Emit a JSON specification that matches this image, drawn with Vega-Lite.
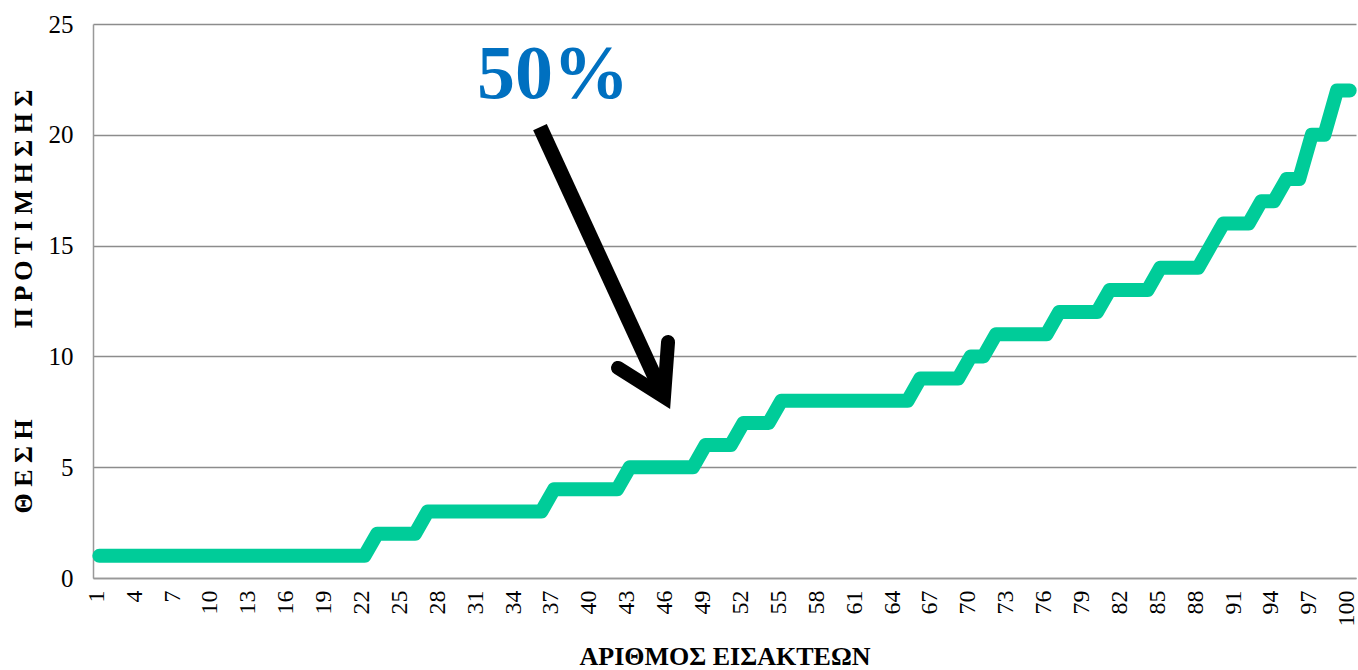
{
  "$schema": "https://vega.github.io/schema/vega-lite/v6.json",
  "width": 1263,
  "height": 554,
  "autosize": "none",
  "padding": {"left": 93, "top": 24, "right": 2, "bottom": 92},
  "background": "white",
  "config": {
    "view": {"stroke": null},
    "font": "Times New Roman",
    "axis": {"labelFont": "Times New Roman", "titleFont": "Times New Roman"},
    "text": {"font": "Times New Roman"}
  },
  "datasets": {
    "series": [
      {"x":1,"y":1},{"x":2,"y":1},{"x":3,"y":1},{"x":4,"y":1},{"x":5,"y":1},{"x":6,"y":1},{"x":7,"y":1},{"x":8,"y":1},{"x":9,"y":1},{"x":10,"y":1},
      {"x":11,"y":1},{"x":12,"y":1},{"x":13,"y":1},{"x":14,"y":1},{"x":15,"y":1},{"x":16,"y":1},{"x":17,"y":1},{"x":18,"y":1},{"x":19,"y":1},{"x":20,"y":1},
      {"x":21,"y":1},{"x":22,"y":1},{"x":23,"y":2},{"x":24,"y":2},{"x":25,"y":2},{"x":26,"y":2},{"x":27,"y":3},{"x":28,"y":3},{"x":29,"y":3},{"x":30,"y":3},
      {"x":31,"y":3},{"x":32,"y":3},{"x":33,"y":3},{"x":34,"y":3},{"x":35,"y":3},{"x":36,"y":3},{"x":37,"y":4},{"x":38,"y":4},{"x":39,"y":4},{"x":40,"y":4},
      {"x":41,"y":4},{"x":42,"y":4},{"x":43,"y":5},{"x":44,"y":5},{"x":45,"y":5},{"x":46,"y":5},{"x":47,"y":5},{"x":48,"y":5},{"x":49,"y":6},{"x":50,"y":6},
      {"x":51,"y":6},{"x":52,"y":7},{"x":53,"y":7},{"x":54,"y":7},{"x":55,"y":8},{"x":56,"y":8},{"x":57,"y":8},{"x":58,"y":8},{"x":59,"y":8},{"x":60,"y":8},
      {"x":61,"y":8},{"x":62,"y":8},{"x":63,"y":8},{"x":64,"y":8},{"x":65,"y":8},{"x":66,"y":9},{"x":67,"y":9},{"x":68,"y":9},{"x":69,"y":9},{"x":70,"y":10},
      {"x":71,"y":10},{"x":72,"y":11},{"x":73,"y":11},{"x":74,"y":11},{"x":75,"y":11},{"x":76,"y":11},{"x":77,"y":12},{"x":78,"y":12},{"x":79,"y":12},{"x":80,"y":12},
      {"x":81,"y":13},{"x":82,"y":13},{"x":83,"y":13},{"x":84,"y":13},{"x":85,"y":14},{"x":86,"y":14},{"x":87,"y":14},{"x":88,"y":14},{"x":89,"y":15},{"x":90,"y":16},
      {"x":91,"y":16},{"x":92,"y":16},{"x":93,"y":17},{"x":94,"y":17},{"x":95,"y":18},{"x":96,"y":18},{"x":97,"y":20},{"x":98,"y":20},{"x":99,"y":22},{"x":100,"y":22}
    ],
    "shaft": [
      {"o":0,"x":35.89,"y":20.35},
      {"o":1,"x":45.71,"y":8.17}
    ],
    "head": [
      {"o":0,"x":42.07,"y":9.48},
      {"o":1,"x":45.71,"y":8.17},
      {"o":2,"x":46.03,"y":10.65}
    ],
    "label": [
      {"x":36.92,"y":21.66,"t":"50%"}
    ]
  },
  "encoding": {
    "x": {
      "field": "x", "type": "quantitative",
      "scale": {"domain": [0.5, 100.5], "nice": false, "zero": false},
      "axis": {
        "values": [1,4,7,10,13,16,19,22,25,28,31,34,37,40,43,46,49,52,55,58,61,64,67,70,73,76,79,82,85,88,91,94,97,100],
        "labelAngle": 270,
        "labelAlign": "right",
        "labelBaseline": "middle",
        "labelFontSize": 24,
        "labelColor": "black",
        "labelPadding": 12,
        "labelOffset": -3,
        "labelOverlap": false,
        "labelFlush": false,
        "labelBound": false,
        "ticks": false,
        "grid": false,
        "domainColor": "#999999",
        "domainWidth": 1.5,
        "title": "ΑΡΙΘΜΟΣ ΕΙΣΑΚΤΕΩΝ",
        "titleFontSize": 26,
        "titleFontWeight": "bold",
        "titleColor": "black",
        "titlePadding": 17
      }
    },
    "y": {
      "field": "y", "type": "quantitative",
      "scale": {"domain": [0, 25], "nice": false},
      "axis": {
        "values": [0,5,10,15,20,25],
        "labelFontSize": 25,
        "labelColor": "black",
        "labelPadding": 20,
        "ticks": false,
        "grid": true,
        "gridColor": "#8c8c8c",
        "gridWidth": 1.5,
        "domainColor": "#999999",
        "domainWidth": 1.5,
        "title": "Θ Ε Σ Η\u00a0\u00a0\u00a0\u00a0\u00a0\u00a0\u00a0\u00a0\u00a0\u00a0\u00a0\u00a0\u00a0\u00a0Π Ρ Ο Τ Ι Μ Η Σ Η Σ",
        "titleFontSize": 26,
        "titleFontWeight": "bold",
        "titleColor": "black",
        "titlePadding": 12
      }
    }
  },
  "layer": [
    {
      "data": {"name": "series"},
      "mark": {"type": "line", "color": "#00CC99", "strokeWidth": 14, "strokeCap": "round", "strokeJoin": "round"}
    },
    {
      "data": {"name": "shaft"},
      "mark": {"type": "line", "color": "black", "strokeWidth": 15, "strokeCap": "butt"},
      "encoding": {"order": {"field": "o"}}
    },
    {
      "data": {"name": "head"},
      "mark": {"type": "line", "color": "black", "strokeWidth": 14, "strokeCap": "round", "strokeJoin": "miter", "strokeMiterLimit": 10},
      "encoding": {"order": {"field": "o"}}
    },
    {
      "data": {"name": "label"},
      "mark": {"type": "text", "font": "Times New Roman", "fontSize": 76, "fontWeight": "bold", "color": "#0070C0", "align": "center", "baseline": "alphabetic"},
      "encoding": {"text": {"field": "t"}}
    }
  ]
}
